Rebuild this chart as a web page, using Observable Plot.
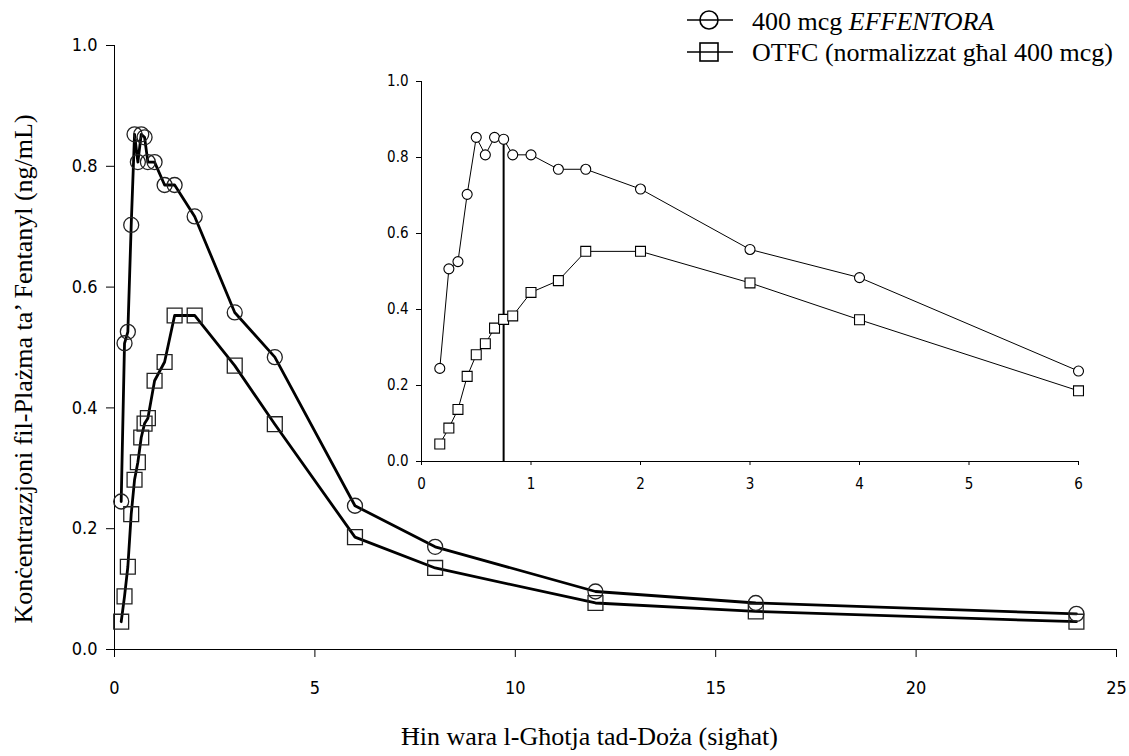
<!DOCTYPE html>
<html>
<head>
<meta charset="utf-8">
<script src="https://cdn.jsdelivr.net/npm/d3@7"></script>
<script src="https://cdn.jsdelivr.net/npm/@observablehq/plot@0.6"></script>
<style>
  html, body { margin: 0; padding: 0; background: #fff; }
  #wrap { position: relative; width: 1129px; height: 756px; overflow: hidden; }
  #inset { position: absolute; left: 370px; top: 60px; }
  #overlay { position: absolute; left: 0; top: 0; pointer-events: none; }
</style>
</head>
<body>
<div id="wrap">
  <div id="main"></div>
  <div id="inset"></div>
  <svg id="overlay" width="1129" height="756"></svg>
</div>
<script>
// ---- data (hours after dose, plasma fentanyl ng/mL) ----
const times     = [0.167, 0.25, 0.333, 0.417, 0.5, 0.583, 0.667, 0.75, 0.833, 1, 1.25, 1.5, 2, 3, 4, 6, 8, 12, 16, 24];
const effentora = [0.245, 0.507, 0.526, 0.703, 0.853, 0.807, 0.853, 0.848, 0.807, 0.807, 0.769, 0.769, 0.717, 0.558, 0.484, 0.238, 0.170, 0.096, 0.077, 0.059];
const otfc      = [0.046, 0.088, 0.137, 0.224, 0.281, 0.310, 0.351, 0.374, 0.383, 0.445, 0.476, 0.553, 0.553, 0.470, 0.373, 0.186, 0.135, 0.077, 0.063, 0.046];
const seriesNames = ["400 mcg ", "EFFENTORA", "OTFC (normalizzat għal 400 mcg)"];
const mainXTicks  = [0, 5, 10, 15, 20, 25];
const yTicks      = [0, 0.2, 0.4, 0.6, 0.8, 1.0];
const insetXTicks = [0, 1, 2, 3, 4, 5, 6];
const insetMaxT   = 6;
const tmaxLine    = [{t: 0.75, c: 0.848}];
const xTitle = "Ħin wara l-Għotja tad-Doża (sigħat)";
const yTitle = "Konċentrazzjoni fil-Plażma ta’ Fentanyl (ng/mL)";

const effRows  = times.map((t, i) => ({t, c: effentora[i]}));
const otfcRows = times.map((t, i) => ({t, c: otfc[i]}));
const serif = "'Liberation Serif', 'Times New Roman', serif";
const sans = "'DejaVu Sans Condensed', 'DejaVu Sans', sans-serif";

const main = Plot.plot({
  width: 1129, height: 756,
  marginLeft: 114, marginRight: 13, marginTop: 45, marginBottom: 107,
  style: {fontFamily: sans, fontStretch: "condensed", fontSize: "18px", color: "#000", background: "transparent", overflow: "visible"},
  x: {domain: [0, 25], ticks: mainXTicks, tickFormat: d3.format("d"), tickSize: 8, tickPadding: 24, line: true, label: null},
  y: {domain: [0, 1], ticks: yTicks, tickFormat: d3.format(".1f"), tickSize: 8, tickPadding: 9, line: true, label: null},
  marks: [
    Plot.line(effRows,  {x: "t", y: "c", stroke: "#000", strokeWidth: 2.8}),
    Plot.line(otfcRows, {x: "t", y: "c", stroke: "#000", strokeWidth: 2.8}),
    Plot.dot(effRows,  {x: "t", y: "c", symbol: "circle", r: 7.5, stroke: "#222", strokeWidth: 1.3, fill: "none"}),
    Plot.dot(otfcRows, {x: "t", y: "c", symbol: "square", r: 8.4, stroke: "#222", strokeWidth: 1.3, fill: "none"}),
    Plot.text([xTitle], {text: d => d, frameAnchor: "bottom", dx: -26, dy: 95, fontFamily: serif, fontSize: 26, fill: "#000"})
  ]
});
document.getElementById("main").appendChild(main);

const effIn  = effRows.filter(d => d.t <= insetMaxT);
const otfcIn = otfcRows.filter(d => d.t <= insetMaxT);
const inset = Plot.plot({
  width: 740, height: 440,
  marginLeft: 51, marginRight: 32, marginTop: 21, marginBottom: 39,
  style: {fontFamily: sans, fontStretch: "condensed", fontSize: "15px", color: "#000", background: "transparent", overflow: "visible"},
  x: {domain: [0, 6], ticks: insetXTicks, tickFormat: d3.format("d"), tickSize: 4, tickPadding: 13, line: true, label: null},
  y: {domain: [0, 1], ticks: yTicks, tickFormat: d3.format(".1f"), tickSize: 5, tickPadding: 8, line: true, label: null},
  marks: [
    Plot.ruleX(tmaxLine, {x: "t", y1: 0, y2: "c", stroke: "#000", strokeWidth: 2}),
    Plot.line(effIn,  {x: "t", y: "c", stroke: "#000", strokeWidth: 1}),
    Plot.line(otfcIn, {x: "t", y: "c", stroke: "#000", strokeWidth: 1}),
    Plot.dot(effIn,  {x: "t", y: "c", symbol: "circle", r: 5, stroke: "#000", strokeWidth: 1.1, fill: "white"}),
    Plot.dot(otfcIn, {x: "t", y: "c", symbol: "square", r: 5.6, stroke: "#000", strokeWidth: 1.1, fill: "white"})
  ]
});
document.getElementById("inset").appendChild(inset);

// ---- y-axis title & legend ----
const ov = d3.select("#overlay");
ov.append("text")
  .attr("transform", "translate(32,369) rotate(-90)")
  .attr("text-anchor", "middle")
  .attr("font-family", serif).attr("font-size", 26).attr("fill", "#000")
  .text(yTitle);

const rowsY = [20, 52];
rowsY.forEach((cy, i) => {
  ov.append("line").attr("x1", 687).attr("x2", 733).attr("y1", cy).attr("y2", cy)
    .attr("stroke", "#000").attr("stroke-width", 1.6);
  if (i === 0) {
    ov.append("circle").attr("cx", 709).attr("cy", cy).attr("r", 9)
      .attr("fill", "none").attr("stroke", "#000").attr("stroke-width", 1.6);
  } else {
    ov.append("rect").attr("x", 700).attr("y", cy - 9).attr("width", 18).attr("height", 18)
      .attr("fill", "none").attr("stroke", "#000").attr("stroke-width", 1.6);
  }
});
const t1 = ov.append("text").attr("x", 752).attr("y", 30)
  .attr("font-family", serif).attr("font-size", 26).attr("fill", "#000");
t1.append("tspan").text(seriesNames[0]);
t1.append("tspan").attr("font-style", "italic").text(seriesNames[1]);
ov.append("text").attr("x", 752).attr("y", 61)
  .attr("font-family", serif).attr("font-size", 26).attr("fill", "#000")
  .text(seriesNames[2]);
</script>
</body>
</html>
